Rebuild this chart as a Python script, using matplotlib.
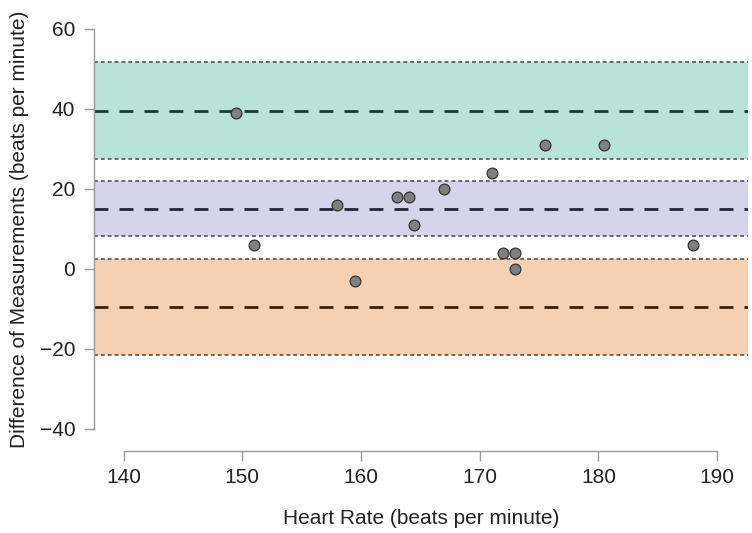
import matplotlib
matplotlib.use("Agg")
import matplotlib.pyplot as plt

plt.rcParams["font.family"] = ["Liberation Sans", "DejaVu Sans"]

# Heart rate (mean of two measurements) and difference
heart_rate = [149.5, 151.0, 158.0, 159.5, 163.0, 164.0, 164.5, 167.0,
              171.0, 172.0, 173.0, 173.0, 175.5, 180.5, 188.0]
difference = [39, 6, 16, -3, 18, 18, 11, 20, 24, 4, 4, 0, 31, 31, 6]

# bands: (lower CI, estimate, upper CI)
upper_loa = [27.5, 39.5, 51.7]
bias = [8.2, 15.0, 22.0]
lower_loa = [-21.4, -9.5, 2.5]

band_fill = ["#b9e3d7", "#d6d4ea", "#f5d0b3"]
band_line = ["#173a31", "#23233b", "#3a1e08"]

xticks = [140, 150, 160, 170, 180, 190]
yticks = [-40, -20, 0, 20, 40, 60]

fig = plt.figure(figsize=(7.52, 5.33), dpi=100)
ax = fig.add_axes([94 / 752, 88 / 533, (748 - 94) / 752, 432 / 533])

for band, fc, lc in zip([upper_loa, bias, lower_loa], band_fill, band_line):
    lo, mid, hi = band
    ax.axhspan(lo, hi, color=fc, lw=0, zorder=1)
    ax.axhline(lo, color="#444444", lw=1.1, ls=(0, (2.5, 2)), zorder=2)
    ax.axhline(hi, color="#444444", lw=1.1, ls=(0, (2.5, 2)), zorder=2)
    ax.axhline(mid, color=lc, lw=2, ls=(0, (5, 4)), zorder=2)

ax.scatter(heart_rate, difference, s=60, facecolor="#808080",
           edgecolor="#333333", linewidth=0.9, zorder=3)

ax.set_xlim(137.5, 192.6)
ax.set_ylim(-44, 64)
ax.set_xticks(xticks)
ax.set_yticks(yticks)
ax.set_yticklabels([str(t).replace("-", "\u2212") for t in yticks])

for s in ["top", "right"]:
    ax.spines[s].set_visible(False)
ax.spines["left"].set_bounds(-40, 60)
ax.spines["bottom"].set_bounds(140, 190)
ax.spines["bottom"].set_position(("outward", 4))
for s in ["left", "bottom"]:
    ax.spines[s].set_color("#999999")
    ax.spines[s].set_linewidth(1.0)

ax.tick_params(axis="both", colors="#999999", labelcolor="#222222",
               labelsize=15, length=7.5, width=1.0)
ax.tick_params(axis="y", pad=6)
ax.tick_params(axis="x", pad=5)

ax.set_xlabel("Heart Rate (beats per minute)", fontsize=15, color="#222222", labelpad=16)
ax.set_ylabel("Difference of Measurements (beats per minute)", fontsize=15,
              color="#222222", labelpad=8)

fig.savefig("out.png", dpi=100)
